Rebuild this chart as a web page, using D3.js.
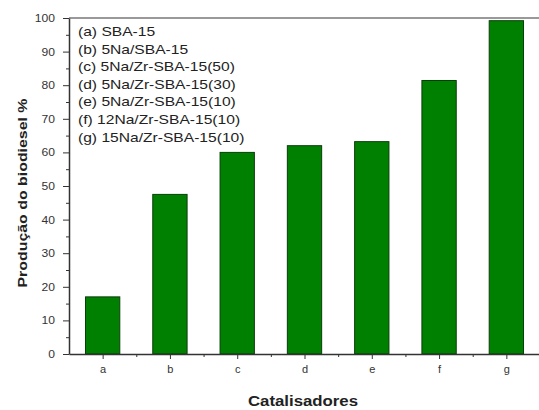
<!DOCTYPE html>
<html>
<head>
<meta charset="utf-8">
<title>Produção do biodiesel</title>
<script src="https://d3js.org/d3.v7.min.js"></script>
<style>
  * { margin: 0; padding: 0; }
  body { background: #fff; }
  text { font-family: "Liberation Sans", Arial, sans-serif; }
</style>
</head>
<body>
<div id="chart"></div>
<script>
// dados
const categories = ["a", "b", "c", "d", "e", "f", "g"];
const values = [17, 47.5, 60, 62, 63.2, 81.4, 99.2];
const legendLabels = [
  "(a) SBA-15",
  "(b) 5Na/SBA-15",
  "(c) 5Na/Zr-SBA-15(50)",
  "(d) 5Na/Zr-SBA-15(30)",
  "(e) 5Na/Zr-SBA-15(10)",
  "(f) 12Na/Zr-SBA-15(10)",
  "(g) 15Na/Zr-SBA-15(10)"
];
const yTicks = [0, 10, 20, 30, 40, 50, 60, 70, 80, 90, 100];

const W = 539, H = 410;
const margin = { top: 18, right: -1, bottom: 56, left: 69 };
// o texto da figura original está um pouco esticado na horizontal
const STRETCH = 1.2;

const svg = d3.select("#chart").append("svg")
  .attr("width", W).attr("height", H);

const x = d3.scaleLinear()
  .domain([0.5, categories.length + 0.5])
  .range([margin.left, W - margin.right]);
const y = d3.scaleLinear()
  .domain([0, 100])
  .range([H - margin.bottom, margin.top]);

const step = x(2) - x(1);
const barW = step * 0.51;

function stretchText(sel, k) {
  sel.each(function () {
    const len = this.getComputedTextLength();
    d3.select(this).attr("textLength", len * k).attr("lengthAdjust", "spacingAndGlyphs");
  });
}

// barras
svg.append("g").selectAll("rect")
  .data(values)
  .join("rect")
  .attr("x", (d, i) => x(i + 1) - barW / 2)
  .attr("y", d => y(d))
  .attr("width", barW)
  .attr("height", d => y(0) - y(d))
  .attr("fill", "#008000")
  .attr("stroke", "#0a3d0a")
  .attr("stroke-width", 1);

// moldura superior
svg.append("line")
  .attr("x1", margin.left).attr("x2", W)
  .attr("y1", y(100)).attr("y2", y(100))
  .attr("stroke", "#777").attr("stroke-width", 1.5);

// eixo Y
const yAxis = svg.append("g")
  .attr("transform", `translate(${margin.left},0)`)
  .call(d3.axisLeft(y).tickValues(yTicks).tickSize(6).tickPadding(8).tickSizeOuter(0));
yAxis.select(".domain").attr("stroke", "#333").attr("stroke-width", 1.5);
yAxis.selectAll(".tick line").attr("stroke", "#333");
yAxis.selectAll(".tick text").attr("font-size", 11).attr("fill", "#333")
  .attr("font-family", "Liberation Sans, Arial, sans-serif")
  .call(stretchText, 1.1);
svg.append("g")
  .attr("transform", `translate(${margin.left},0)`)
  .call(d3.axisLeft(y).tickValues(d3.range(5, 100, 10)).tickSize(3).tickFormat("").tickSizeOuter(0))
  .call(g => g.select(".domain").remove())
  .selectAll("line").attr("stroke", "#333");

// eixo X
const xAxis = svg.append("g")
  .attr("transform", `translate(0,${y(0)})`)
  .call(d3.axisBottom(x).tickValues(d3.range(1, categories.length + 1))
    .tickFormat(d => categories[d - 1]).tickSize(5).tickPadding(6).tickSizeOuter(0));
xAxis.select(".domain").attr("stroke", "#333").attr("stroke-width", 1.5);
xAxis.selectAll(".tick line").attr("stroke", "#333");
xAxis.selectAll(".tick text").attr("font-size", 11).attr("fill", "#333")
  .attr("font-family", "Liberation Sans, Arial, sans-serif");
svg.append("g")
  .attr("transform", `translate(0,${y(0)})`)
  .call(d3.axisBottom(x).tickValues(d3.range(1.5, categories.length + 0.6, 1)).tickSize(3).tickFormat("").tickSizeOuter(0))
  .call(g => g.select(".domain").remove())
  .selectAll("line").attr("stroke", "#333");

// legenda
svg.append("g").selectAll("text")
  .data(legendLabels)
  .join("text")
  .attr("x", margin.left + 9)
  .attr("y", (d, i) => 36 + i * 17.6)
  .attr("font-size", 13)
  .attr("fill", "#222")
  .text(d => d)
  .call(stretchText, STRETCH);

// títulos
svg.append("text")
  .attr("transform", `translate(27,${(y(0) + y(100)) / 2 + 7}) rotate(-90)`)
  .attr("text-anchor", "middle")
  .attr("font-size", 13).attr("font-weight", "bold").attr("fill", "#222")
  .attr("textLength", 189).attr("lengthAdjust", "spacingAndGlyphs")
  .text("Produção do biodiesel %");
svg.append("text")
  .attr("x", 303).attr("y", 406)
  .attr("text-anchor", "middle")
  .attr("font-size", 14).attr("font-weight", "bold").attr("fill", "#222")
  .attr("textLength", 110).attr("lengthAdjust", "spacingAndGlyphs")
  .text("Catalisadores");
</script>
</body>
</html>
